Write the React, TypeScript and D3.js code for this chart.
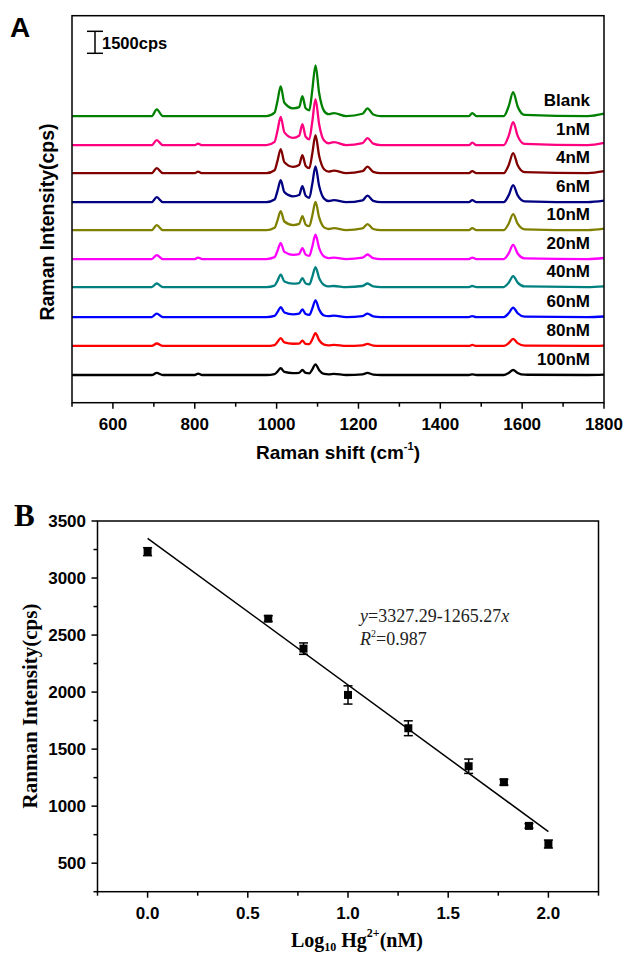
import React from "react";
import * as d3 from "d3";

// ---- panel A: Raman spectra, intensities (cps) read at these shifts ----
const SHIFT_KEYS = [500, 695, 707, 722, 800, 808, 818, 975, 995, 1002, 1010, 1019, 1040, 1055, 1063, 1071, 1080, 1087, 1095, 1104, 1116, 1127, 1140, 1170, 1210, 1222, 1236, 1255, 1470, 1478, 1488, 1555, 1567, 1578, 1589, 1606, 1760, 1800];

const BLANK = [0, 0, 460, 0, 0, 0, 0, 0, 240, 1020, 2030, 910, 530, 610, 1360, 540, 400, 1730, 3460, 1560, 350, 130, 210, 0, 160, 530, 110, 0, 0, 210, 0, 0, 660, 1640, 660, 80, 0, 170];
const NM1 = [0, 0, 340, 0, 0, 100, 0, 0, 230, 970, 1930, 870, 500, 640, 1430, 570, 400, 1570, 3140, 1410, 310, 130, 210, 0, 140, 480, 100, 0, 0, 170, 0, 0, 630, 1570, 630, 80, 0, 150];
const NM4 = [0, 0, 340, 0, 0, 100, 0, 0, 200, 820, 1640, 740, 430, 550, 1230, 490, 340, 1300, 2590, 1170, 260, 100, 170, 0, 130, 440, 90, 0, 0, 140, 0, 0, 540, 1360, 540, 70, 0, 130];
const NM6 = [0, 0, 340, 0, 0, 0, 0, 0, 180, 750, 1500, 680, 400, 490, 1090, 440, 300, 1220, 2440, 1100, 240, 80, 140, 0, 130, 440, 90, 0, 0, 140, 0, 0, 460, 1160, 460, 60, 0, 100];
const NM10 = [0, 0, 340, 0, 0, 0, 0, 0, 160, 650, 1300, 590, 350, 430, 960, 380, 270, 970, 1930, 870, 190, 80, 140, 0, 120, 410, 80, 0, 0, 140, 0, 0, 440, 1090, 440, 60, 0, 100];
const NM20 = [0, 0, 270, 0, 0, 100, 0, 0, 130, 550, 1090, 490, 290, 340, 750, 300, 220, 830, 1660, 750, 170, 60, 100, 0, 90, 310, 60, 0, 0, 100, 0, 0, 380, 960, 380, 50, 0, 70];
const NM40 = [0, 0, 240, 0, 0, 0, 0, 0, 100, 420, 840, 380, 230, 270, 610, 240, 180, 680, 1360, 610, 140, 40, 70, 0, 70, 240, 50, 0, 0, 70, 0, 0, 300, 750, 300, 40, 0, 50];
const NM60 = [0, 0, 240, 0, 0, 0, 0, 0, 80, 340, 680, 310, 190, 240, 530, 210, 150, 570, 1140, 510, 110, 60, 100, 0, 70, 240, 50, 0, 0, 70, 0, 0, 260, 650, 260, 30, 0, 40];
const NM80 = [0, 0, 170, 0, 0, 0, 0, 0, 60, 270, 530, 240, 150, 160, 360, 140, 120, 440, 870, 390, 90, 40, 70, 0, 40, 140, 30, 0, 0, 70, 0, 0, 190, 480, 190, 20, 0, 30];
const NM100 = [0, 0, 140, 0, 0, 100, 0, 0, 60, 230, 460, 210, 130, 150, 340, 140, 110, 370, 730, 330, 70, 40, 70, 0, 40, 140, 30, 0, 0, 40, 0, 0, 140, 340, 140, 20, 0, 20];

const SPECTRA = [BLANK, NM1, NM4, NM6, NM10, NM20, NM40, NM60, NM80, NM100];
const SERIES_NAMES = ["Blank", "1nM", "4nM", "6nM", "10nM", "20nM", "40nM", "60nM", "80nM", "100nM"];
const SERIES_COLORS = ["#008000", "#ff0080", "#800000", "#000080", "#808000", "#ff00ff", "#008080", "#0000ff", "#ff0000", "#000000"];
// vertical stacking offset of each spectrum (cps)
const SERIES_OFFSETS = [19550, 17570, 15660, 13680, 11770, 9800, 7890, 5840, 3870, 1890];
const SCALE_BAR_CPS = 1500;

// ---- panel B: calibration ----
const LOG_CONC = [0, 0.602, 0.778, 1.0, 1.301, 1.602, 1.778, 1.903, 2.0];
const INTENSITY = [3231, 2644, 2381, 1975, 1683, 1350, 1210, 827, 668];
const ERRORS = [35, 25, 50, 80, 65, 63, 25, 20, 35];
const FIT_X = [0, 2.0];
const FIT_Y = [3348, 777];

const SANS = "'Liberation Sans', Arial, sans-serif";
const SERIF = "'Liberation Serif', 'Times New Roman', serif";

export default function App() {
  // panel A scales
  const xA = d3.scaleLinear().domain([500, 1800]).range([72, 604]);
  const yA = d3.scaleLinear().domain([0, 26400]).range([402.7, 15.7]);
  const line = d3
    .line<[number, number]>()
    .x((d) => xA(d[0]))
    .y((d) => yA(d[1]))
    .curve(d3.curveMonotoneX);

  const ticksA = d3.range(500, 1801, 100);

  // panel B scales
  const xB = d3.scaleLinear().domain([-0.25, 2.25]).range([97.5, 598.5]);
  const yB = d3.scaleLinear().domain([250, 3500]).range([891.7, 521]);
  const ticksBx = d3.range(-0.25, 2.26, 0.25);
  const ticksBy = d3.range(250, 3501, 250);
  const fmt = d3.format(".1f");

  const barX = 95;
  const barTop = yA(SCALE_BAR_CPS) - yA(0) + 53.3;

  return (
    <svg width={623} height={956} style={{ position: "absolute", left: 0, top: 0, background: "#fff" }}>
      {/* ===== Panel A ===== */}
      <text x={10} y={37} fontFamily={SANS} fontWeight="bold" fontSize={28}>A</text>

      {SPECTRA.map((vals, i) => (
        <path
          key={SERIES_NAMES[i]}
          d={line(SHIFT_KEYS.map((s, k) => [s, vals[k] + SERIES_OFFSETS[i]] as [number, number])) || ""}
          fill="none"
          stroke={SERIES_COLORS[i]}
          strokeWidth={2.3}
          strokeLinejoin="round"
        />
      ))}

      {SERIES_NAMES.map((name, i) => (
        <text
          key={name}
          x={590}
          y={yA(SERIES_OFFSETS[i]) - 10}
          textAnchor="end"
          fontFamily={SANS}
          fontWeight="bold"
          fontSize={17}
        >
          {name}
        </text>
      ))}

      {/* scale bar */}
      <g stroke="#000" strokeWidth={1.5}>
        <line x1={barX} x2={barX} y1={barTop} y2={53.3} />
        <line x1={87} x2={103} y1={barTop} y2={barTop} />
        <line x1={87} x2={103} y1={53.3} y2={53.3} />
      </g>
      <text x={102} y={48.5} fontFamily={SANS} fontWeight="bold" fontSize={16.5}>
        {SCALE_BAR_CPS}cps
      </text>

      <rect x={72} y={15.7} width={604 - 72} height={402.7 - 15.7} fill="none" stroke="#000" strokeWidth={1.5} />
      {ticksA.map((t) => (
        <line key={t} x1={xA(t)} x2={xA(t)} y1={402.7} y2={402.7 + (t % 200 === 0 ? 6 : 4)} stroke="#000" strokeWidth={1.5} />
      ))}
      {ticksA
        .filter((t) => t % 200 === 0)
        .map((t) => (
          <text key={t} x={xA(t)} y={430} textAnchor="middle" fontFamily={SANS} fontWeight="bold" fontSize={17}>
            {t}
          </text>
        ))}
      <text x={338} y={459} textAnchor="middle" fontFamily={SANS} fontWeight="bold" fontSize={19}>
        Raman shift (cm
        <tspan fontSize={11} dy={-9}>-1</tspan>
        <tspan dy={9}>)</tspan>
      </text>
      <text transform="translate(54,222) rotate(-90)" textAnchor="middle" fontFamily={SANS} fontWeight="bold" fontSize={19.5}>
        Raman Intensity(cps)
      </text>

      {/* ===== Panel B ===== */}
      <text x={14} y={526} fontFamily={SERIF} fontWeight="bold" fontSize={31}>B</text>

      <rect x={97.5} y={521} width={598.5 - 97.5} height={891.7 - 521} fill="none" stroke="#000" strokeWidth={1.5} />
      {ticksBx.map((t) => {
        const major = Math.abs(t * 2 - Math.round(t * 2)) < 1e-6;
        return (
          <line key={t} x1={xB(t)} x2={xB(t)} y1={891.7} y2={891.7 + (major ? 6 : 4)} stroke="#000" strokeWidth={1.5} />
        );
      })}
      {[0, 0.5, 1, 1.5, 2].map((t) => (
        <text key={t} x={xB(t)} y={919} textAnchor="middle" fontFamily={SANS} fontWeight="bold" fontSize={17}>
          {fmt(t)}
        </text>
      ))}
      {ticksBy.map((t) => (
        <line key={t} x1={97.5} x2={97.5 - (t % 500 === 0 ? 6 : 4)} y1={yB(t)} y2={yB(t)} stroke="#000" strokeWidth={1.5} />
      ))}
      {ticksBy
        .filter((t) => t % 500 === 0)
        .map((t) => (
          <text key={t} x={86} y={yB(t) + 6} textAnchor="end" fontFamily={SANS} fontWeight="bold" fontSize={17}>
            {t}
          </text>
        ))}

      {/* fit line */}
      <line x1={xB(FIT_X[0])} y1={yB(FIT_Y[0])} x2={xB(FIT_X[1])} y2={yB(FIT_Y[1])} stroke="#000" strokeWidth={1.5} />

      {/* error bars + markers */}
      {LOG_CONC.map((c, i) => {
        const cx = xB(c);
        const top = yB(INTENSITY[i] + ERRORS[i]);
        const bot = yB(INTENSITY[i] - ERRORS[i]);
        return (
          <g key={c}>
            <g stroke="#000" strokeWidth={1.5}>
              <line x1={cx} x2={cx} y1={top} y2={bot} />
              <line x1={cx - 4.5} x2={cx + 4.5} y1={top} y2={top} />
              <line x1={cx - 4.5} x2={cx + 4.5} y1={bot} y2={bot} />
            </g>
            <rect x={cx - 4} y={yB(INTENSITY[i]) - 4} width={8} height={8} fill="#000" />
          </g>
        );
      })}

      <text x={360} y={622} fontFamily={SERIF} fontSize={18} fill="#222">
        <tspan fontStyle="italic">y</tspan>=3327.29-1265.27<tspan fontStyle="italic">x</tspan>
      </text>
      <text x={360} y={645} fontFamily={SERIF} fontSize={18} fill="#222">
        <tspan fontStyle="italic">R</tspan>
        <tspan fontSize={10} dy={-8}>2</tspan>
        <tspan dy={8}>=0.987</tspan>
      </text>

      <text x={357} y={947} textAnchor="middle" fontFamily={SERIF} fontWeight="bold" fontSize={20}>
        Log
        <tspan fontSize={12} dy={4}>10</tspan>
        <tspan dy={-4}> Hg</tspan>
        <tspan fontSize={12} dy={-10}>2+</tspan>
        <tspan dy={10}>(nM)</tspan>
      </text>
      <text transform="translate(37,706) rotate(-90)" textAnchor="middle" fontFamily={SERIF} fontWeight="bold" fontSize={21}>
        Ranman Intensity(cps)
      </text>
    </svg>
  );
}
